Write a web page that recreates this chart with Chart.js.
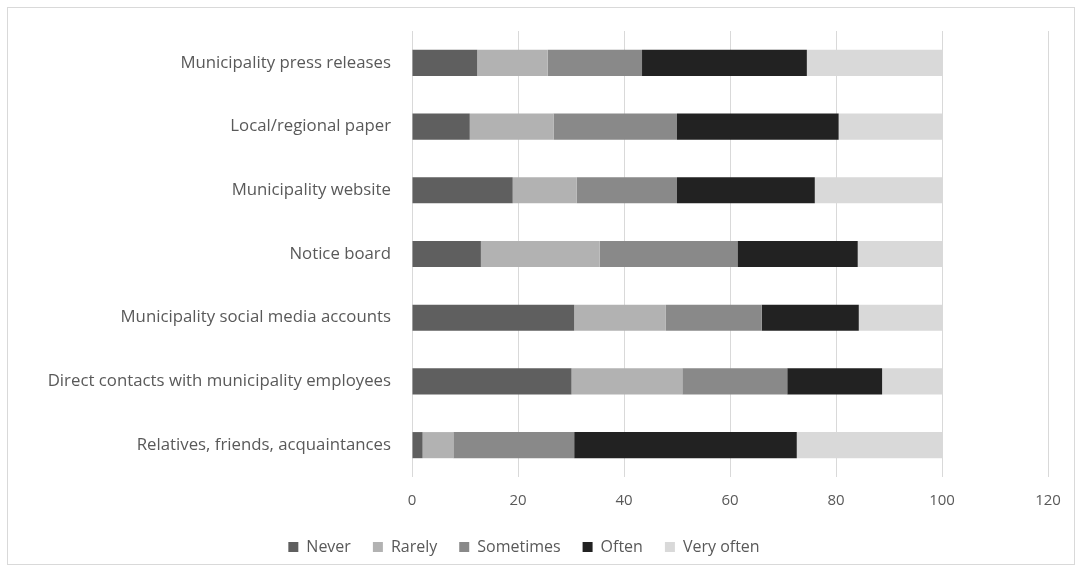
<!DOCTYPE html>
<html>
<head>
<meta charset="utf-8">
<script src="https://cdn.jsdelivr.net/npm/chart.js@4.4.1/dist/chart.umd.min.js"></script>
<style>
  body { margin: 0; background: #fff; }
  #frame { position: absolute; left: 7px; top: 7px; width: 1066px; height: 556px; border: 1px solid #d9d9d9; }
  #wrap { position: absolute; left: 0; top: 0; width: 1081px; height: 569px; }
</style>
</head>
<body>
<div id="frame"></div>
<div id="wrap"><canvas id="myChart"></canvas></div>
<script>
// Categories (top to bottom)
const categories = [
  "Municipality press releases",
  "Local/regional paper",
  "Municipality website",
  "Notice board",
  "Municipality social media accounts",
  "Direct contacts with municipality employees",
  "Relatives, friends, acquaintances"
];

// Series values (%)
const never     = [12.3, 10.9, 19.0, 13.0, 30.6, 30.1, 2.0];
const rarely    = [13.3, 15.8, 12.1, 22.4, 17.3, 20.9, 5.8];
const sometimes = [17.8, 23.3, 18.9, 26.0, 18.1, 19.8, 22.8];
const often     = [31.1, 30.5, 26.0, 22.7, 18.3, 17.9, 42.0];
const veryOften = [25.5, 19.5, 24.0, 15.9, 15.7, 11.3, 27.4];

const xTicks = [0, 20, 40, 60, 80, 100, 120];

const textColor = "#595959";
const fontFamily = "'Open Sans', 'Noto Sans', sans-serif";

function serie(label, data, color) {
  return {
    label: label,
    data: data,
    backgroundColor: color,
    borderWidth: 0,
    barPercentage: 0.41,
    categoryPercentage: 1.0
  };
}

const ctx = document.getElementById('myChart').getContext('2d');
new Chart(ctx, {
  type: 'bar',
  data: {
    labels: categories,
    datasets: [
      serie("Never", never, "#5f5f5f"),
      serie("Rarely", rarely, "#b2b2b2"),
      serie("Sometimes", sometimes, "#898989"),
      serie("Often", often, "#222222"),
      serie("Very often", veryOften, "#d9d9d9")
    ]
  },
  options: {
    indexAxis: 'y',
    responsive: true,
    maintainAspectRatio: false,
    animation: false,
    layout: { padding: { top: 31, right: 33, bottom: 4, left: 0 } },
    scales: {
      x: {
        stacked: true,
        min: 0,
        max: 120,
        afterBuildTicks: axis => { axis.ticks = xTicks.map(v => ({ value: v })); },
        grid: { color: "#d9d9d9", drawTicks: false },
        border: { display: false },
        ticks: { color: textColor, padding: 15, font: { size: 15, family: fontFamily } },
        afterFit: axis => { axis.height = 40; }
      },
      y: {
        stacked: true,
        grid: { display: false },
        border: { display: false },
        ticks: { color: textColor, padding: 13, font: { size: 16.8, family: fontFamily } },
        afterFit: axis => { axis.width = 412; }
      }
    },
    plugins: {
      tooltip: { enabled: false },
      legend: {
        position: 'bottom',
        labels: {
          color: textColor,
          boxWidth: 10,
          boxHeight: 10,
          padding: 22,
          font: { size: 16, family: fontFamily }
        }
      }
    }
  }
});
</script>
</body>
</html>
